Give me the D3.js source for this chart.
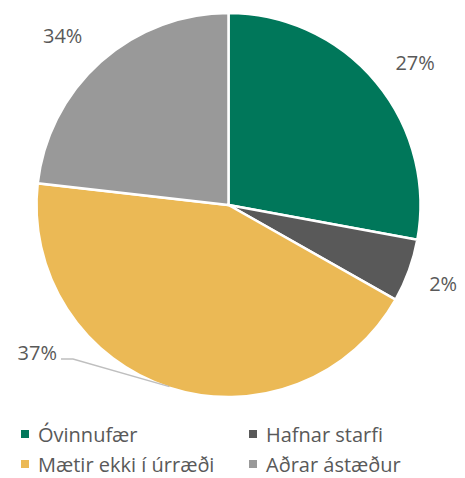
<!DOCTYPE html>
<html>
<head>
<meta charset="utf-8">
<script src="https://cdn.jsdelivr.net/npm/d3@7"></script>
<style>
body { margin: 0; background: #fff; }
text { font-family: "Open Sans", "Liberation Sans", sans-serif; fill: #595959; }
</style>
</head>
<body>
<svg id="chart" width="465" height="478"></svg>
<script>
var categories = ['Óvinnufær', 'Hafnar starfi', 'Mætir ekki í úrræði', 'Aðrar ástæður'];
var sliceValues = [27.9, 5.3, 43.6, 23.2];
var sliceLabels = ['27%', '2%', '37%', '34%'];
var colors = ['#00775a', '#595959', '#ebb955', '#999999'];

var svg = d3.select("#chart");
var cx = 228.5, cy = 205, radius = 192;

var pie = d3.pie().sort(null).value(function(d) { return d; });
var arc = d3.arc().innerRadius(0).outerRadius(radius);
var arcs = pie(sliceValues);

var g = svg.append("g").attr("transform", "translate(" + cx + "," + cy + ")");

g.selectAll("path")
	.data(arcs)
	.enter()
	.append("path")
	.attr("d", arc)
	.style("fill", function(d, i) { return colors[i]; })
	.style("stroke", "#fff")
	.style("stroke-width", 2.5);

// labels sit outside the pie, nudged like the original
var labelArc = d3.arc().innerRadius(radius + 30).outerRadius(radius + 30);
var labelNudge = [[16, 7], [6, 10], [0, 0], [-18, 4]];

arcs.forEach(function(d, i) {
	if (i == 2) return;
	var p = labelArc.centroid(d);
	g.append("text")
		.attr("x", p[0] + labelNudge[i][0])
		.attr("y", p[1] + labelNudge[i][1])
		.attr("text-anchor", "middle")
		.style("font-size", "20px")
		.text(sliceLabels[i]);
});

// yellow slice label with leader line
var yellow = arcs[2];
var a = (yellow.startAngle + yellow.endAngle) / 2;
var ex = Math.sin(a) * (radius - 1), ey = -Math.cos(a) * (radius - 1);
g.append("polyline")
	.attr("points", [[ex, ey], [73 - cx, 359 - cy], [61 - cx, 359 - cy]].join(" "))
	.style("fill", "none")
	.style("stroke", "#bfbfbf")
	.style("stroke-width", 1.5);
g.append("text")
	.attr("x", 57 - cx)
	.attr("y", 360 - cy)
	.attr("text-anchor", "end")
	.style("font-size", "20px")
	.text(sliceLabels[2]);

// legend
var legendX = [21, 249];
var legendY = [442, 472];
var legend = svg.selectAll(".legend")
	.data(categories)
	.enter()
	.append("g")
	.attr("class", "legend")
	.attr("transform", function(d, i) {
		return "translate(" + legendX[i % 2] + "," + legendY[Math.floor(i / 2)] + ")";
	});
legend.append("rect")
	.attr("x", 0).attr("y", -12)
	.attr("width", 8).attr("height", 8)
	.style("fill", function(d, i) { return colors[i]; });
legend.append("text")
	.attr("x", 17)
	.attr("y", 0)
	.style("font-size", "20px")
	.text(function(d) { return d; });
</script>
</body>
</html>
